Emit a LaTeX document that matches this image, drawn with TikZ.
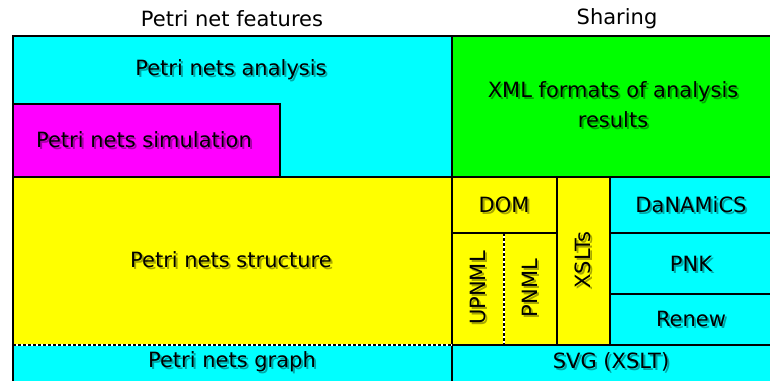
\documentclass[tikz,border=0pt]{standalone}
\usepackage{fontspec}
\setmainfont{DejaVu Sans}
\definecolor{cy}{RGB}{0,255,255}
\definecolor{mg}{RGB}{255,0,255}
\definecolor{yl}{RGB}{255,255,0}
\definecolor{gr}{RGB}{0,255,0}
\tikzset{
  txt/.style={font=\fontsize{21}{30}\selectfont, inner sep=0pt, align=center},
  % text with a soft drop shadow
  lbl/.style={txt, label={[txt, text opacity=0.35, xshift=2pt, yshift=-2pt]center:#1}, node contents={#1}},
  rlbl/.style={txt, rotate=90, label={[txt, text opacity=0.35, xshift=2pt, yshift=-2pt, rotate=90]center:#1}, node contents={#1}},
  edge/.style={line width=1.5pt, black},
  split/.style={line width=1.3pt, black, dash pattern=on 3pt off 2pt},
}
\begin{document}
\begin{tikzpicture}[x=1pt, y=-1pt]
                \useasboundingbox (0,0) rectangle (770,380);
                % areas
                \fill[cy] (13,36) rectangle (452,177);
                \fill[mg] (13,104) rectangle (280,177);
                \fill[gr] (452,36) rectangle (772,177);
                \fill[yl] (13,177) rectangle (452,345);
                \fill[cy] (13,345) rectangle (452,382);
                \fill[yl] (452,177) rectangle (610,345);
                \fill[cy] (610,177) rectangle (772,345);
                \fill[cy] (452,345) rectangle (772,382);
                % borders
                \draw[edge] (13,382) -- (13,36) -- (772,36);
                \draw[edge] (452,36) -- (452,382);
                \draw[edge] (13,177) -- (772,177);
                \draw[edge] (13,104) -- (280,104) -- (280,177);
                \draw[edge] (452,233) -- (557,233);
                \draw[edge] (557,177) -- (557,345);
                \draw[edge] (610,177) -- (610,345);
                \draw[edge] (610,233) -- (772,233);
                \draw[edge] (610,294) -- (772,294);
                \draw[edge] (452,345) -- (772,345);
                \draw[line width=1.5pt, white] (13,345) -- (452,345);
                \draw[split, line width=1.5pt] (13,345) -- (452,345);
                \draw[line width=1.2pt, white] (504,233) -- (504,345);
                \draw[split, line width=1.2pt] (504,233) -- (504,345);
                % headings
                \node[txt] (feat) at (232,19) {Petri net features};
                \node[txt] (share) at (617,19) {Sharing};
                % left column
                \node (ana) at (231,70) [lbl=Petri nets analysis];
                \node (sim) at (144,140) [lbl=Petri nets simulation];
                \node (struc) at (231,260) [lbl=Petri nets structure];
                \node (graph) at (232,362) [lbl=Petri nets graph];
                % right column
                \node (xml) at (613,105) [lbl={XML formats of analysis\\results}];
                \node (dom) at (504,205) [lbl=DOM];
                \node (upnml) at (478,288) [rlbl=UPNML];
                \node (pnml) at (530,288) [rlbl=PNML];
                \node (xslt) at (583,260) [rlbl=XSLTs];
                \node (dana) at (691,205) [lbl=DaNAMiCS];
                \node (pnk) at (691,264) [lbl=PNK];
                \node (renew) at (691,319) [lbl=Renew];
                \node (svg) at (611,362) [lbl=SVG (XSLT)];
\end{tikzpicture}
\end{document}
